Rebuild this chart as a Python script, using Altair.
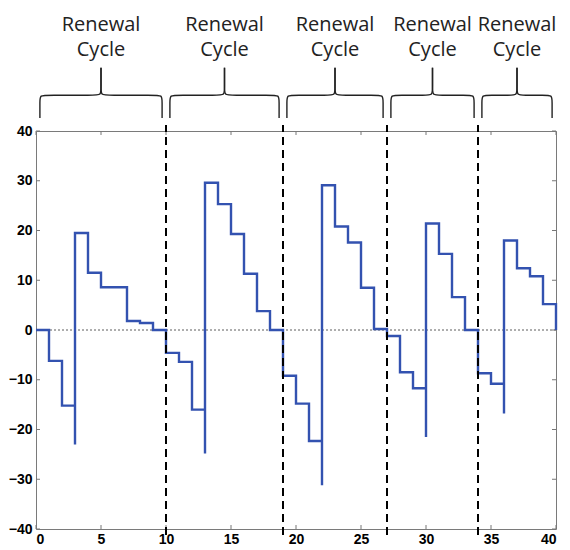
import altair as alt
import pandas as pd

# ---- data ----
cycle_bounds = [0, 10, 19, 27, 34, 40]

step_x = [0, 1, 2, 3, 3, 4, 5, 7, 8, 9,
          10, 11, 12, 13, 13, 14, 15, 16, 17, 18,
          19, 20, 21, 22, 22, 23, 24, 25, 26,
          27, 28, 29, 30, 30, 31, 32, 33,
          34, 35, 36, 36, 37, 38, 39, 40]
step_y = [0, -6.2, -15.2, -23.0, 19.5, 11.5, 8.6, 1.8, 1.4, 0,
          -4.6, -6.4, -16.0, -24.8, 29.6, 25.3, 19.3, 11.3, 3.8, 0,
          -9.2, -14.8, -22.3, -31.2, 29.1, 20.8, 17.6, 8.5, 0.2,
          -1.2, -8.5, -11.7, -21.5, 21.4, 15.3, 6.6, 0,
          -8.7, -10.8, -16.8, 18.0, 12.4, 10.8, 5.2, 0]

x_ticks = [0, 5, 10, 15, 20, 25, 30, 35, 40]
y_ticks = [-40, -30, -20, -10, 0, 10, 20, 30, 40]
label_words = ["Renewal", "Cycle"]

W, H = 520, 398
BLUE = "#3352b0"

df_step = pd.DataFrame({"x": step_x, "y": step_y, "i": list(range(len(step_x)))})

# brace shapes derived from the cycle boundaries
inset = 0.3
y_end, y_bar, y_tip = 42.6, 47.2, 52.7
rows = []
text_rows = []
for k in range(len(cycle_bounds) - 1):
    a, b = cycle_bounds[k], cycle_bounds[k + 1]
    l, r, m = a + inset, b - inset, (a + b) / 2
    for side, e, s in (("L", l, 1), ("R", r, -1)):
        pts = [(e, y_end), (e, 46.0), (e, y_bar), (e + s * 0.6, y_bar),
               (m - s * 0.5, y_bar), (m, y_bar), (m, 48.6), (m, y_tip)]
        for j, (px, py) in enumerate(pts):
            rows.append({"seg": f"{k}{side}", "j": j, "bx": px, "by": py})
    text_rows.append({"cx": m, "cy": 60.2, "w": label_words[0]})
    text_rows.append({"cx": m, "cy": 55.0, "w": label_words[1]})
df_brace = pd.DataFrame(rows)
df_text = pd.DataFrame(text_rows)
df_div = pd.DataFrame({"d": cycle_bounds[1:-1]})

xs = alt.Scale(domain=[0, 40], nice=False, zero=False)
ys = alt.Scale(domain=[-40, 40], nice=False, zero=False)
xax = alt.Axis(values=x_ticks, title=None, labelPadding=3)
yax = alt.Axis(values=y_ticks, title=None, labelPadding=4)

main = alt.Chart(df_step).mark_line(
    interpolate="step-after", color=BLUE, strokeWidth=2.4
).encode(
    x=alt.X("x:Q", scale=xs, axis=xax),
    y=alt.Y("y:Q", scale=ys, axis=yax),
    order="i:Q",
)

zero = alt.Chart(pd.DataFrame({"z": [0]})).mark_rule(
    color="#333", strokeWidth=0.8, strokeDash=[2, 2]
).encode(y=alt.Y("z:Q", scale=ys, axis=yax))

dividers = alt.Chart(df_div).mark_rule(
    color="black", strokeWidth=2, strokeDash=[8, 5], clip=False
).encode(
    x=alt.X("d:Q", scale=xs, axis=xax),
    y=alt.datum(-41.2, scale=ys),
    y2=alt.datum(41.2),
)

braces = alt.Chart(df_brace).mark_line(
    interpolate="basis", color="#222", strokeWidth=1.4, clip=False
).encode(
    x=alt.X("bx:Q", scale=xs, axis=xax),
    y=alt.Y("by:Q", scale=ys, axis=yax),
    detail="seg:N",
    order="j:Q",
)

texts = alt.Chart(df_text).mark_text(
    font="Open Sans", fontSize=20, color="#222", baseline="alphabetic", clip=False
).encode(
    x=alt.X("cx:Q", scale=xs, axis=xax),
    y=alt.Y("cy:Q", scale=ys, axis=yax),
    text="w:N",
)

df_xt = pd.DataFrame({"t": x_ticks})
df_yt = pd.DataFrame({"t": y_ticks})
tick_style = dict(color="#777", strokeWidth=1)
xt_top = alt.Chart(df_xt).mark_rule(**tick_style).encode(
    x=alt.X("t:Q", scale=xs, axis=xax), y=alt.value(0), y2=alt.value(4))
xt_bot = alt.Chart(df_xt).mark_rule(**tick_style).encode(
    x=alt.X("t:Q", scale=xs, axis=xax), y=alt.value(H), y2=alt.value(H - 4))
yt_left = alt.Chart(df_yt).mark_rule(**tick_style).encode(
    y=alt.Y("t:Q", scale=ys, axis=yax), x=alt.value(0), x2=alt.value(4))
yt_right = alt.Chart(df_yt).mark_rule(**tick_style).encode(
    y=alt.Y("t:Q", scale=ys, axis=yax), x=alt.value(W), x2=alt.value(W - 4))

chart = alt.layer(
    zero, xt_top, xt_bot, yt_left, yt_right, main, dividers, braces, texts
).properties(
    width=W, height=H,
    autosize=alt.AutoSizeParams(type="none"),
    padding={"left": 28, "top": 123, "right": 6, "bottom": 24},
).configure_view(
    stroke="#7a7a7a", strokeWidth=1
).configure_axis(
    domain=False, ticks=False, grid=False,
    labelFont="Liberation Sans", labelFontSize=14, labelFontWeight="bold",
    labelColor="black",
)

chart.save("out.html", embed_options={"renderer": "svg", "actions": False})
